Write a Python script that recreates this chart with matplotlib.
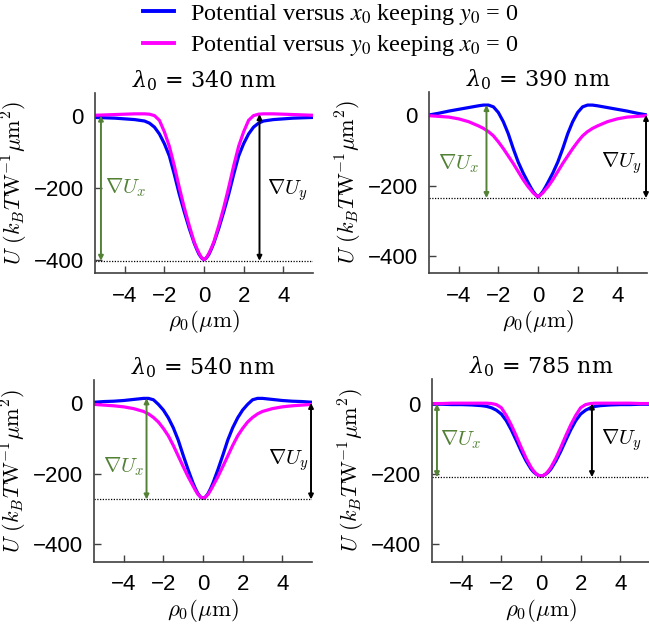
import matplotlib
matplotlib.use("Agg")
import matplotlib.pyplot as plt
from matplotlib.lines import Line2D

# sample positions (um)
rho = [-5.5, -5, -4.5, -4, -3.5, -3, -2.75, -2.5, -2.25, -2, -1.75, -1.5, -1.25, -1, -0.75,
       -0.5, -0.375, -0.25, -0.125, 0,
       0.125, 0.25, 0.375, 0.5, 0.75, 1, 1.25, 1.5, 1.75, 2, 2.25, 2.5, 2.75, 3, 3.5, 4, 4.5, 5, 5.5]

wavelengths = ["340", "390", "540", "785"]

# potential versus x0 (blue)
u_x_340 = [-4, -5, -6, -8, -10, -14, -20, -31, -50, -77, -111, -162, -217, -266, -312,
           -353, -370, -385, -395, -400,
           -395, -385, -370, -353, -312, -266, -217, -162, -111, -77, -50, -31, -20, -14, -10, -8, -6, -5, -4]
u_x_390 = [0, 5, 11, 16, 21, 26, 28, 28, 23, 7, -19, -53, -95, -133, -164,
           -191, -204, -216, -225, -232,
           -225, -216, -204, -191, -164, -133, -95, -53, -19, 7, 23, 28, 28, 26, 21, 16, 11, 5, 0]
u_x_540 = [2, 4, 5, 7, 10, 13, 13, 9, -4, -20, -42, -70, -105, -148, -189,
           -227, -243, -257, -266, -270,
           -266, -257, -243, -227, -189, -148, -105, -70, -42, -20, -4, 9, 13, 13, 10, 7, 5, 4, 2]
u_x_785 = [-1, -1, -2, -2, -3, -5, -7, -11, -18, -29, -48, -74, -104, -135, -163,
           -186, -194, -200, -204, -206,
           -204, -200, -194, -186, -163, -135, -104, -74, -48, -29, -18, -11, -7, -5, -3, -2, -2, -1, -1]

# potential versus y0 (magenta)
u_y_340 = [2, 3, 4, 5, 6, 6, 5, 1, -12, -44, -84, -138, -198, -254, -304,
           -350, -367, -382, -394, -400,
           -394, -382, -367, -350, -304, -254, -198, -138, -84, -44, -12, 1, 5, 6, 6, 5, 4, 3, 2]
u_y_390 = [-2, -4, -6, -11, -19, -31, -38, -47, -59, -76, -95, -116, -137, -160, -183,
           -203, -211, -220, -226, -232,
           -226, -220, -211, -203, -183, -160, -137, -116, -95, -76, -59, -47, -38, -31, -19, -11, -6, -4, -2]
u_y_540 = [-4, -6, -8, -11, -16, -24, -31, -41, -54, -72, -93, -120, -150, -180, -209,
           -235, -248, -259, -266, -270,
           -266, -259, -248, -235, -209, -180, -150, -120, -93, -72, -54, -41, -31, -24, -16, -11, -8, -6, -4]
u_y_785 = [1, 1, 2, 2, 2, 2, 2, 1, -2, -11, -33, -60, -91, -124, -155,
           -181, -191, -199, -204, -206,
           -204, -199, -191, -181, -155, -124, -91, -60, -33, -11, -2, 1, 2, 2, 2, 2, 2, 1, 1]

u_x_all = [u_x_340, u_x_390, u_x_540, u_x_785]
u_y_all = [u_y_340, u_y_390, u_y_540, u_y_785]

# depth arrows
green_x = [-5.2, -2.6, -2.85, -5.25]
green_top = [1, 28, 13, 0]
black_x = [2.8, 5.45, 5.45, 2.57]
black_top = [5, 0, 0, 1]
label_ux_pos = [(-3.95, -200), (-4.0, -137), (-4.0, -180), (-4.05, -103)]
label_uy_pos = [(4.2, -205), (4.2, -137), (4.3, -161), (4.05, -103)]

W, H = 649, 629
boxes = [(95, 93, 218, 180), (429, 92, 218, 181), (94, 380, 218, 182), (432, 379, 218, 183)]
ylims = [(-437, 64), (-447, 65), (-450, 65), (-451, 71)]

GREEN = "#538135"
BLUE = "#0000ff"
MAGENTA = "#ff00ff"

fig = plt.figure(figsize=(W / 100, H / 100), dpi=100)

for i in range(4):
    l, t, w, h = boxes[i]
    ax = fig.add_axes([l / W, 1 - (t + h) / H, w / W, h / H])
    ax.plot(rho, u_x_all[i], color=BLUE, lw=2.3, solid_joinstyle="round")
    ax.plot(rho, u_y_all[i], color=MAGENTA, lw=2.3, solid_joinstyle="round")
    floor = min(u_x_all[i]) - 3
    ax.axhline(floor, color="k", ls=(0, (1, 1.2)), lw=0.9)

    ax.annotate("", xy=(green_x[i], green_top[i]), xytext=(green_x[i], floor),
                arrowprops=dict(arrowstyle="<|-|>", color=GREEN, lw=1.4,
                                mutation_scale=7, shrinkA=0, shrinkB=0))
    ax.annotate("", xy=(black_x[i], black_top[i]), xytext=(black_x[i], floor),
                arrowprops=dict(arrowstyle="<|-|>", color="k", lw=1.4,
                                mutation_scale=7, shrinkA=0, shrinkB=0),
                annotation_clip=False)
    ax.text(*label_ux_pos[i], r"$\nabla U_x$", color=GREEN, fontsize=15,
            ha="center", va="center", math_fontfamily="cm")
    ax.text(*label_uy_pos[i], r"$\nabla U_y$", color="k", fontsize=15,
            ha="center", va="center", math_fontfamily="cm")

    ax.set_xlim(-5.5, 5.5)
    ax.set_ylim(*ylims[i])
    ax.set_xticks([-4, -2, 0, 2, 4])
    ax.set_yticks([-400, -200, 0])
    ax.set_xticklabels(["\u22124", "\u22122", "0", "2", "4"], family="Liberation Sans", fontsize=16)
    ax.set_yticklabels(["\u2212400", "\u2212200", "0"], family="Liberation Sans", fontsize=16)
    ax.tick_params(direction="in", length=5, width=1, color="#404040")
    ax.tick_params(axis="x", pad=9)
    ax.tick_params(axis="y", pad=8)
    for s in ["top", "right"]:
        ax.spines[s].set_visible(False)
    for s in ["left", "bottom"]:
        ax.spines[s].set_color("#404040")
        ax.spines[s].set_linewidth(1.2)

    ax.set_xlabel(r"$\rho_0(\mu\mathrm{m})$", fontsize=16.5, math_fontfamily="cm", labelpad=1)
    ax.set_ylabel(r"$U\ (k_B T\mathrm{W}^{-1}\mu\mathrm{m}^2)$", fontsize=16,
                  math_fontfamily="cm", labelpad=3)
    ax.set_title(r"$\lambda_0$ = " + wavelengths[i] + " nm", family="DejaVu Serif",
                 fontsize=16, math_fontfamily="dejavuserif", pad=-5.5)

handles = [Line2D([], [], color=BLUE, lw=2.8), Line2D([], [], color=MAGENTA, lw=2.8)]
labels = [r"Potential versus $x_0$ keeping $y_0$ = 0", r"Potential versus $y_0$ keeping $x_0$ = 0"]
leg = fig.legend(handles, labels, loc="upper left", bbox_to_anchor=(143 / W, 1.0 - 2 / H),
                 frameon=False, handlelength=1.28, handletextpad=0.65, labelspacing=0.25,
                 prop={"family": "Liberation Serif", "size": 17.5, "math_fontfamily": "stix"},
                 borderpad=0, borderaxespad=0)

fig.savefig("out.png", dpi=100)
